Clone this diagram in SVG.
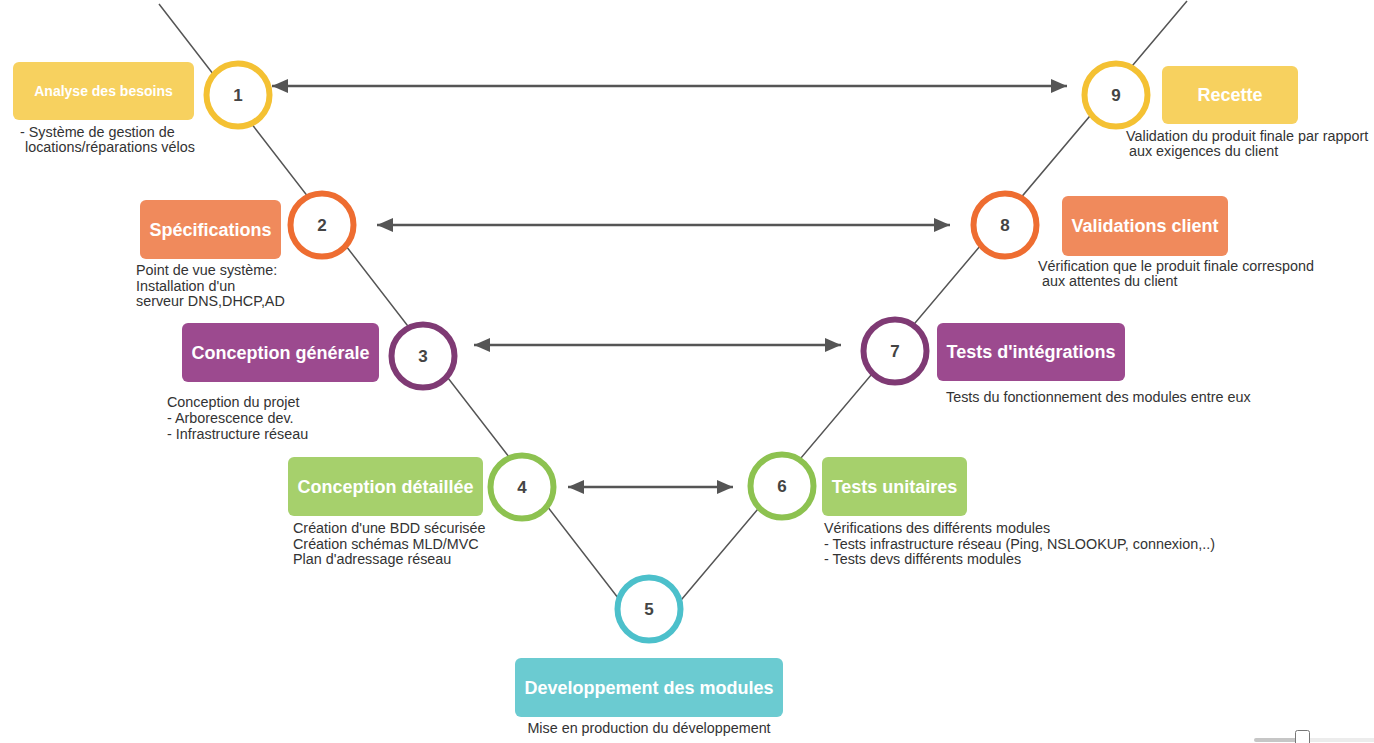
<svg xmlns="http://www.w3.org/2000/svg" width="1374" height="743" viewBox="0 0 1374 743">
<defs>
<marker id="ah" viewBox="0 0 16 14" refX="16" refY="7" markerWidth="16" markerHeight="14" markerUnits="userSpaceOnUse" orient="auto-start-reverse">
<path d="M0,0 L16,7 L0,14 Z" fill="#555"/>
</marker>
</defs>
<style>
.v{stroke:#555;stroke-width:1.5;fill:none}
.arr{stroke:#555;stroke-width:2.5;fill:none;marker-start:url(#ah);marker-end:url(#ah)}
.ring{fill:#fff;stroke-width:6}
.num{font-family:"Liberation Sans",Arial,sans-serif;font-weight:bold;font-size:17px;fill:#444;text-anchor:middle}
.lbl{font-family:"Liberation Sans",Arial,sans-serif;font-weight:bold;font-size:18px;fill:#fff;text-anchor:middle}
.desc{font-family:"Liberation Sans",Arial,sans-serif;font-size:14.35px;fill:#333}
.y{fill:#F7D15F}.yc{stroke:#F4C133}
.o{fill:#F08A5C}.oc{stroke:#EE6D31}
.p{fill:#9C4A8F}.pc{stroke:#7F3A74}
.g{fill:#A6D06C}.gc{stroke:#8DC250}
.t{fill:#6BCBD1}.tc{stroke:#4CC0CB}
</style>
<rect width="1374" height="743" fill="#fff"/>
<g id="connectors">
<path class="v" d="M159,4 L649,638 L1187,1"/>
<line class="arr" x1="272" y1="86" x2="1067" y2="86"/>
<line class="arr" x1="377" y1="225" x2="950" y2="225"/>
<line class="arr" x1="474" y1="345" x2="841" y2="345"/>
<line class="arr" x1="568" y1="487" x2="733" y2="487"/>
</g>
<g id="step1">
<rect class="y" x="13" y="62" width="181" height="58" rx="6"/>
<text class="lbl" x="103.5" y="96" style="font-size:14px">Analyse des besoins</text>
<circle class="ring yc" cx="238" cy="95" r="31.5"/>
<text class="num" x="238" y="101">1</text>
<text class="desc" x="20" y="137">- Système de gestion de</text>
<text class="desc" x="25" y="152">locations/réparations vélos</text>
</g>
<g id="step2">
<rect class="o" x="140" y="200" width="141" height="59" rx="6"/>
<text class="lbl" x="210.5" y="236">Spécifications</text>
<circle class="ring oc" cx="322" cy="225" r="31.5"/>
<text class="num" x="322" y="231">2</text>
<text class="desc" x="136" y="275">Point de vue système:</text>
<text class="desc" x="136" y="291">Installation d'un</text>
<text class="desc" x="136" y="306">serveur DNS,DHCP,AD</text>
</g>
<g id="step3">
<rect class="p" x="182" y="323" width="197" height="59" rx="6"/>
<text class="lbl" x="280.5" y="359">Conception générale</text>
<circle class="ring pc" cx="423" cy="356" r="31.5"/>
<text class="num" x="423" y="362">3</text>
<text class="desc" x="167" y="407">Conception du projet</text>
<text class="desc" x="167" y="423">- Arborescence dev.</text>
<text class="desc" x="167" y="439">- Infrastructure réseau</text>
</g>
<g id="step4">
<rect class="g" x="288" y="457" width="195" height="59" rx="6"/>
<text class="lbl" x="385.5" y="493">Conception détaillée</text>
<circle class="ring gc" cx="522" cy="487" r="31.5"/>
<text class="num" x="522" y="493">4</text>
<text class="desc" x="293" y="533">Création d'une BDD sécurisée</text>
<text class="desc" x="293" y="549">Création schémas MLD/MVC</text>
<text class="desc" x="293" y="564">Plan d'adressage réseau</text>
</g>
<g id="step5">
<circle class="ring tc" cx="649" cy="609" r="31.5"/>
<text class="num" x="649" y="615">5</text>
<rect class="t" x="515" y="658" width="268" height="59" rx="6"/>
<text class="lbl" x="649" y="694">Developpement des modules</text>
<text class="desc" x="649" y="733" text-anchor="middle">Mise en production du développement</text>
</g>
<g id="step6">
<circle class="ring gc" cx="782" cy="486" r="31.5"/>
<text class="num" x="782" y="492">6</text>
<rect class="g" x="822" y="457" width="145" height="59" rx="6"/>
<text class="lbl" x="894.5" y="493">Tests unitaires</text>
<text class="desc" x="824" y="533">Vérifications des différents modules</text>
<text class="desc" x="824" y="549">- Tests infrastructure réseau (Ping, NSLOOKUP, connexion,..)</text>
<text class="desc" x="824" y="564">- Tests devs différents modules</text>
</g>
<g id="step7">
<circle class="ring pc" cx="895" cy="351" r="31.5"/>
<text class="num" x="895" y="357">7</text>
<rect class="p" x="937" y="323" width="188" height="58" rx="6"/>
<text class="lbl" x="1031" y="358">Tests d'intégrations</text>
<text class="desc" x="946" y="402">Tests du fonctionnement des modules entre eux</text>
</g>
<g id="step8">
<circle class="ring oc" cx="1005" cy="225" r="31.5"/>
<text class="num" x="1005" y="231">8</text>
<rect class="o" x="1062" y="196" width="166" height="60" rx="6"/>
<text class="lbl" x="1145" y="232">Validations client</text>
<text class="desc" x="1038" y="271">Vérification que le produit finale correspond</text>
<text class="desc" x="1042" y="286">aux attentes du client</text>
</g>
<g id="step9">
<circle class="ring yc" cx="1116" cy="95" r="31.5"/>
<text class="num" x="1116" y="101">9</text>
<rect class="y" x="1162" y="66" width="136" height="58" rx="6"/>
<text class="lbl" x="1230" y="101">Recette</text>
<text class="desc" x="1126" y="141">Validation du produit finale par rapport</text>
<text class="desc" x="1129" y="156">aux exigences du client</text>
</g>
<g id="slider">
<rect x="1254" y="738" width="45" height="4" rx="2" fill="#c6c6c6"/>
<rect x="1305" y="738" width="69" height="4" fill="#ececec"/>
<rect x="1295.5" y="730.5" width="14" height="16" rx="2" fill="#fff" stroke="#777" stroke-width="1"/>
</g>
</svg>
